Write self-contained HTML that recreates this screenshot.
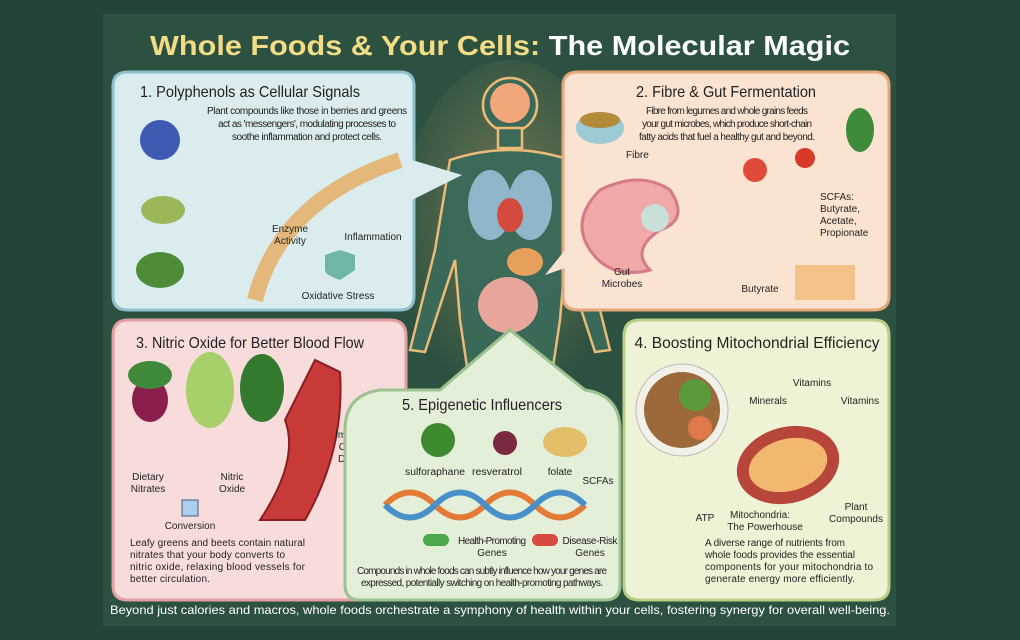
<!DOCTYPE html>
<html><head><meta charset="utf-8"><style>
html,body{margin:0;padding:0;background:#24443a;}
svg{display:block}
text{font-family:"Liberation Sans",sans-serif;}
</style></head><body>
<svg width="1020" height="640" viewBox="0 0 1020 640" xmlns="http://www.w3.org/2000/svg">
<defs>
<radialGradient id="glow" cx="50%" cy="45%" r="55%"><stop offset="0" stop-color="#f6c27a" stop-opacity=".35"/><stop offset="1" stop-color="#f6c27a" stop-opacity="0"/></radialGradient>
</defs>
<rect width="1020" height="640" fill="#24443a"/>
<rect x="103" y="14" width="793" height="612" fill="#2c5140"/>
<text x="500" y="55" font-size="28" text-anchor="middle" font-weight="bold" textLength="700" lengthAdjust="spacingAndGlyphs"><tspan fill="#f3dc86">Whole Foods &amp; Your Cells:</tspan><tspan fill="#ffffff"> The Molecular Magic</tspan></text>

<ellipse cx="510" cy="230" rx="110" ry="170" fill="url(#glow)"/>
<g fill="#3b6a5a" stroke="#f4c07a" stroke-width="2.5" opacity=".95">
<circle cx="510" cy="105" r="27"/>
<rect x="498" y="128" width="24" height="20"/>
<path d="M450 160 Q510 140 570 160 L585 250 L610 350 L595 352 L565 260 L560 320 L548 400 L472 400 L460 320 L455 260 L425 352 L410 350 L435 250 Z"/>
</g>
<circle cx="510" cy="103" r="20" fill="#f1a77a"/>
<ellipse cx="490" cy="205" rx="22" ry="35" fill="#8fb7c9"/>
<ellipse cx="530" cy="205" rx="22" ry="35" fill="#8fb7c9"/>
<ellipse cx="510" cy="215" rx="13" ry="17" fill="#d44a3c"/>
<ellipse cx="525" cy="262" rx="18" ry="14" fill="#e6a05c"/>
<ellipse cx="508" cy="305" rx="30" ry="28" fill="#e8a59a"/>

<!-- panel 1 -->
<path d="M128 72 H400 Q414 72 414 86 V296 Q414 310 400 310 H128 Q113 310 113 296 V86 Q113 72 128 72 Z" fill="#dbecef" stroke="#8dc1cc" stroke-width="3"/>
<path d="M412 160 L462 175 L412 200 Z" fill="#dbecef"/>
<text x="250" y="97" font-size="16" text-anchor="middle" fill="#222" textLength="220" lengthAdjust="spacingAndGlyphs">1. Polyphenols as Cellular Signals</text>
<g font-size="10" fill="#222" text-anchor="middle" lengthAdjust="spacingAndGlyphs"><text x="307" y="114" textLength="200">Plant compounds like those in berries and greens</text><text x="307" y="127" textLength="178">act as 'messengers', modulating processes to</text><text x="307" y="140" textLength="150">soothe inflammation and protect cells.</text></g>
<circle cx="160" cy="140" r="20" fill="#3d5bb0"/><ellipse cx="163" cy="210" rx="22" ry="14" fill="#9ab85a"/><ellipse cx="160" cy="270" rx="24" ry="18" fill="#4e8c3a"/>
<path d="M255 300 Q280 200 400 160" fill="none" stroke="#e3b87a" stroke-width="16"/>
<g font-size="10" fill="#222" text-anchor="middle"><text x="290" y="232">Enzyme</text><text x="290" y="244">Activity</text>
<text x="373" y="240">Inflammation</text><text x="338" y="299">Oxidative Stress</text></g>
<path d="M340 250 l15 5 v15 q-15 10 -15 10 q-15 -5 -15 -10 v-15 z" fill="#6fb6a8"/>

<!-- panel 2 -->
<path d="M578 72 H874 Q889 72 889 86 V296 Q889 310 874 310 H578 Q563 310 563 296 V86 Q563 72 578 72 Z" fill="#fbe3d2" stroke="#e5a77a" stroke-width="3"/>
<path d="M565 250 L545 275 L565 268 Z" fill="#fbe3d2"/>
<text x="726" y="97" font-size="16" text-anchor="middle" fill="#222" textLength="180" lengthAdjust="spacingAndGlyphs">2. Fibre &amp; Gut Fermentation</text>
<g font-size="10" fill="#222" text-anchor="middle" lengthAdjust="spacingAndGlyphs"><text x="727" y="114" textLength="162">Fibre from legumes and whole grains feeds</text><text x="727" y="127" textLength="170">your gut microbes, which produce short-chain</text><text x="727" y="140" textLength="176">fatty acids that fuel a healthy gut and beyond.</text></g>
<ellipse cx="600" cy="128" rx="24" ry="16" fill="#9ccbd3"/><ellipse cx="600" cy="120" rx="20" ry="8" fill="#b28a3a"/>
<ellipse cx="860" cy="130" rx="14" ry="22" fill="#3d8a3a"/>
<path d="M600 190 q40 -20 70 0 q20 30 -10 40 q-30 20 -10 40 q-40 10 -60 -20 q-20 -30 10 -60z" fill="#f0a8a8" stroke="#d47a88" stroke-width="3"/>
<circle cx="655" cy="218" r="14" fill="#c8e0d8"/>
<circle cx="755" cy="170" r="12" fill="#e04a3a"/><circle cx="805" cy="158" r="10" fill="#d83a2a"/>
<rect x="795" y="265" width="60" height="35" fill="#f4c38a"/>
<g font-size="10" fill="#222"><text x="626" y="158">Fibre</text>
<text x="820" y="200">SCFAs:</text><text x="820" y="212">Butyrate,</text><text x="820" y="224">Acetate,</text><text x="820" y="236">Propionate</text>
<text x="622" y="275" text-anchor="middle">Gut</text><text x="622" y="287" text-anchor="middle">Microbes</text>
<text x="760" y="292" text-anchor="middle">Butyrate</text></g>

<!-- panel 3 -->
<path d="M128 320 H390 Q406 320 406 336 V586 Q406 600 392 600 H128 Q113 600 113 586 V336 Q113 320 128 320 Z" fill="#f8dcdc" stroke="#e3a0a0" stroke-width="3"/>
<text x="250" y="348" font-size="16" text-anchor="middle" fill="#222" textLength="228" lengthAdjust="spacingAndGlyphs">3. Nitric Oxide for Better Blood Flow</text>
<ellipse cx="150" cy="400" rx="18" ry="22" fill="#8a1f4e"/><ellipse cx="150" cy="375" rx="22" ry="14" fill="#3e8a3a"/>
<ellipse cx="210" cy="390" rx="24" ry="38" fill="#a7d06a"/><ellipse cx="262" cy="388" rx="22" ry="34" fill="#347a2e"/>
<path d="M260 520 Q300 460 285 420 L315 360 L340 372 Q345 450 305 520 Z" fill="#c83a38" stroke="#8a1e20" stroke-width="2"/>
<g font-size="10" fill="#222" text-anchor="middle"><text x="356" y="438">Improved</text><text x="356" y="450">Oxygen</text><text x="356" y="462">Delivery</text>
<text x="148" y="480">Dietary</text><text x="148" y="492">Nitrates</text><text x="232" y="480">Nitric</text><text x="232" y="492">Oxide</text><text x="190" y="529">Conversion</text></g>
<rect x="182" y="500" width="16" height="16" fill="#a8d0ea" stroke="#557"/>
<g font-size="10" fill="#222" lengthAdjust="spacingAndGlyphs"><text x="130" y="546" textLength="175">Leafy greens and beets contain natural</text><text x="130" y="558" textLength="155">nitrates that your body converts to</text><text x="130" y="570" textLength="175">nitric oxide, relaxing blood vessels for</text><text x="130" y="582" textLength="80">better circulation.</text></g>

<!-- panel 4 -->
<path d="M640 320 H874 Q889 320 889 336 V586 Q889 600 874 600 H640 Q624 600 624 586 V336 Q624 320 640 320 Z" fill="#eff3d6" stroke="#b9cd86" stroke-width="3"/>
<text x="757" y="348" font-size="16" text-anchor="middle" fill="#222" textLength="245" lengthAdjust="spacingAndGlyphs">4. Boosting Mitochondrial Efficiency</text>
<circle cx="682" cy="410" r="46" fill="#f1f1ea" stroke="#bbb"/><circle cx="682" cy="410" r="38" fill="#9c6a3a"/><circle cx="695" cy="395" r="16" fill="#5a9a3a"/><circle cx="700" cy="428" r="12" fill="#e07a4a"/>
<ellipse cx="788" cy="465" rx="52" ry="38" fill="#b8453a" transform="rotate(-15 788 465)"/><ellipse cx="788" cy="465" rx="40" ry="26" fill="#f2b870" transform="rotate(-15 788 465)"/>
<g font-size="10" fill="#222" text-anchor="middle"><text x="768" y="404">Minerals</text><text x="812" y="386">Vitamins</text><text x="860" y="404">Vitamins</text><text x="705" y="521">ATP</text><text x="760" y="518">Mitochondria:</text><text x="765" y="530">The Powerhouse</text><text x="856" y="510">Plant</text><text x="856" y="522">Compounds</text></g>
<g font-size="10" fill="#222" lengthAdjust="spacingAndGlyphs"><text x="705" y="546" textLength="140">A diverse range of nutrients from</text><text x="705" y="558" textLength="150">whole foods provides the essential</text><text x="705" y="570" textLength="168">components for your mitochondria to</text><text x="705" y="582" textLength="150">generate energy more efficiently.</text></g>

<!-- panel 5 -->
<path d="M360 600 Q345 600 345 585 V430 Q345 395 380 390 H440 L510 330 L585 390 Q620 395 620 430 V585 Q620 600 605 600 Z" fill="#e3efd9" stroke="#9cc290" stroke-width="3"/>
<text x="482" y="410" font-size="16" text-anchor="middle" fill="#222" textLength="160" lengthAdjust="spacingAndGlyphs">5. Epigenetic Influencers</text>
<circle cx="438" cy="440" r="17" fill="#3e8a2e"/><circle cx="505" cy="443" r="12" fill="#7a2a3e"/><ellipse cx="565" cy="442" rx="22" ry="15" fill="#e4bf6a"/>
<g font-size="10" fill="#222" text-anchor="middle"><text x="435" y="475" textLength="60" lengthAdjust="spacingAndGlyphs">sulforaphane</text><text x="497" y="475" textLength="50" lengthAdjust="spacingAndGlyphs">resveratrol</text><text x="560" y="475">folate</text><text x="598" y="484">SCFAs</text></g>
<path d="M385 505 Q410 480 435 505 T485 505 T535 505 T585 505" fill="none" stroke="#e37a36" stroke-width="6"/>
<path d="M385 505 Q410 530 435 505 T485 505 T535 505 T585 505" fill="none" stroke="#4a90c8" stroke-width="6"/>
<rect x="423" y="534" width="26" height="12" rx="6" fill="#4aa84a"/><rect x="532" y="534" width="26" height="12" rx="6" fill="#d84a40"/>
<g font-size="10" fill="#222" text-anchor="middle" lengthAdjust="spacingAndGlyphs"><text x="492" y="544" textLength="68">Health-Promoting</text><text x="492" y="556">Genes</text><text x="590" y="544" textLength="55">Disease-Risk</text><text x="590" y="556">Genes</text>
<text x="482" y="574" textLength="250">Compounds in whole foods can subtly influence how your genes are</text><text x="482" y="586" textLength="242">expressed, potentially switching on health-promoting pathways.</text></g>

<text x="500" y="614" font-size="12" text-anchor="middle" fill="#ffffff" textLength="780" lengthAdjust="spacingAndGlyphs">Beyond just calories and macros, whole foods orchestrate a symphony of health within your cells, fostering synergy for overall well-being.</text>
</svg>
</body></html>
